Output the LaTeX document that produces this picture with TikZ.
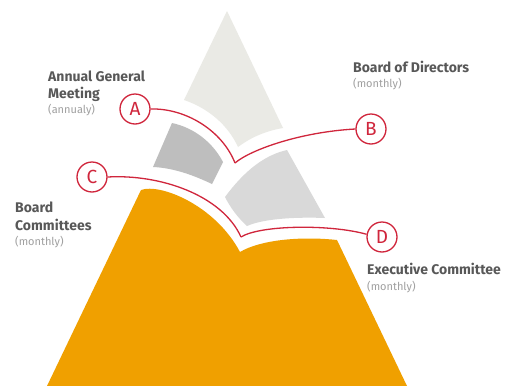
\documentclass[tikz,border=0pt]{standalone}
\usepackage{fontspec}
\setmainfont{Fira Sans}
\definecolor{agred}{HTML}{D0263C}
\definecolor{toplight}{HTML}{EAEAE5}
\definecolor{darkgray}{HTML}{BEBEBE}
\definecolor{midgray}{HTML}{D9D9D9}
\definecolor{mtorange}{HTML}{F0A000}
\definecolor{titlegray}{HTML}{585858}
\definecolor{subgray}{HTML}{A0A0A0}
\begin{document}
\begin{tikzpicture}[x=1pt,y=-1pt,
  redline/.style={draw=agred,line width=1.3pt},
  lettercirc/.style={circle,draw=agred,line width=1.3pt,fill=white,minimum size=30pt,inner sep=0pt,text=agred,font=\fontsize{19}{19}\selectfont},
  lbltitle/.style={anchor=base west,inner sep=0pt,text=titlegray,font=\bfseries\fontsize{14}{14}\selectfont},
  lblsub/.style={anchor=base west,inner sep=0pt,text=subgray,font=\fontsize{11}{11}\selectfont}]
\useasboundingbox (0,0) rectangle (515,386);
\fill[white] (0,0) rectangle (515,386);

% top light triangle
\fill[toplight] (227,11) -- (184,100) .. controls (208,108) and (228,125) .. (238,147)
  .. controls (250,138) and (265,131) .. (283,128) -- cycle;
% dark left piece
\fill[darkgray] (172,123) .. controls (195,128) and (213,143) .. (223,162) -- (212,184)
  .. controls (195,176) and (175,168) .. (153,167) -- cycle;
% right grey piece
\fill[midgray] (225,197) .. controls (245,170) and (265,155) .. (287,150) -- (325,218)
  .. controls (300,217) and (265,218) .. (247,226) .. controls (238,218) and (230,207) .. (225,197) -- cycle;
% orange base
\fill[mtorange] (141,190) .. controls (160,183) and (215,205) .. (240,252)
  .. controls (260,240) and (300,236) .. (337,240) -- (407,386) -- (47,386) -- cycle;

% circles
\node[lettercirc] (A) at (135,109) {A};
\node[lettercirc] (B) at (371,129) {B};
\node[lettercirc] (C) at (92,177) {C};
\node[lettercirc] (D) at (382,237) {D};
\coordinate (ab) at (235,163);
\coordinate (cd) at (241,237);

% connectors
\draw[redline] (A.east) .. controls (185,108) and (222,130) .. (ab);
\draw[redline] (ab) .. controls (250,150) and (300,132) .. (B.west);
\draw[redline] (C.east) .. controls (160,174) and (222,195) .. (cd);
\draw[redline] (cd) .. controls (260,225) and (330,224) .. (D.170);

% labels
\node[lbltitle] (agm1) at (48,81) {Annual General};
\node[lbltitle] (agm2) at (48,98) {Meeting};
\node[lblsub] (agm3) at (48,113) {(annualy)};
\node[lbltitle] (bod1) at (353,72) {Board of Directors};
\node[lblsub] (bod2) at (353,87) {(monthly)};
\node[lbltitle] (bc1) at (15,212) {Board};
\node[lbltitle] (bc2) at (15,230) {Committees};
\node[lblsub] (bc3) at (15,245) {(monthly)};
\node[lbltitle] (ec1) at (367,274) {Executive Committee};
\node[lblsub] (ec2) at (367,290) {(monthly)};
\end{tikzpicture}
\end{document}
